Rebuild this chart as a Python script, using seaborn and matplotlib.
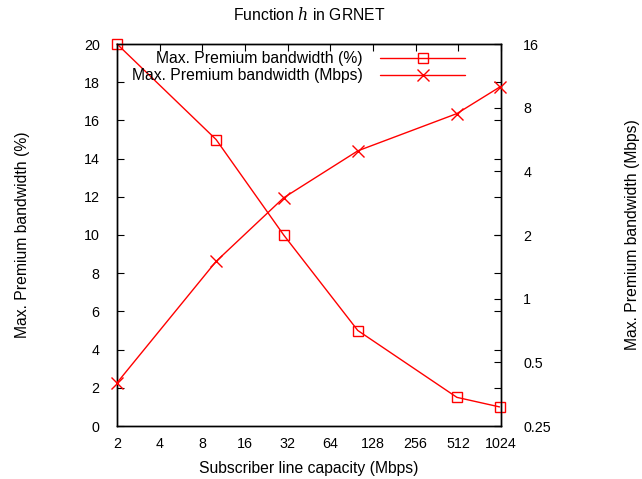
import matplotlib
matplotlib.use("Agg")
import matplotlib.pyplot as plt
import seaborn as sns
import pandas as pd

capacity = [2, 10, 30, 100, 500, 1000]
premium_pct = [20, 15, 10, 5, 1.5, 1]
premium_mbps = [0.4, 1.5, 3, 5, 7.5, 10]
xtick_vals = [2, 4, 8, 16, 32, 64, 128, 256, 512, 1024]
ytick_left = list(range(0, 21, 2))
ytick_right = [0.25, 0.5, 1, 2, 4, 8, 16]
ytick_right_labels = ["0.25", "0.5", "1", "2", "4", "8", "16"]

sns.set_style("white")
plt.rcParams['font.family'] = ['Liberation Sans', 'DejaVu Sans']
plt.rcParams['mathtext.fontset'] = 'dejavuserif'
for k in ("text.color", "axes.labelcolor", "xtick.color", "ytick.color"):
    plt.rcParams[k] = "black"

df = pd.DataFrame({"capacity": capacity, "pct": premium_pct, "mbps": premium_mbps})

W, H = 642, 479
L, R, T, B = 117, 501, 44, 426
fig = plt.figure(figsize=(W/100, H/100), dpi=100)
ax = fig.add_axes([L/W, 1-B/H, (R-L)/W, (B-T)/H])
ax2 = ax.twinx()

red = "#ff0000"
sns.lineplot(data=df, x="capacity", y="pct", ax=ax, color=red, lw=1,
             marker="s", markersize=7, markerfacecolor="none",
             markeredgecolor=red, markeredgewidth=1,
             label="Max. Premium bandwidth (%)", legend=False)
sns.lineplot(data=df, x="capacity", y="mbps", ax=ax2, color=red, lw=1,
             marker="x", markersize=9, markeredgecolor=red, markeredgewidth=1,
             label="Max. Premium bandwidth (Mbps)", legend=False)
for ln in ax.lines + ax2.lines:
    ln.set_clip_on(False)
    ln.set_zorder(5)

ax.set_xscale("log", base=2)
ax.set_xlim(2, 1024)
ax.set_xticks(xtick_vals)
ax.set_xticklabels([str(v) for v in xtick_vals])
ax.xaxis.set_minor_locator(matplotlib.ticker.NullLocator())
ax.set_ylim(0, 20)
ax.set_yticks(ytick_left)

ax2.set_yscale("log", base=2)
ax2.set_ylim(0.25, 16)
ax2.set_yticks(ytick_right)
ax2.set_yticklabels(ytick_right_labels)
ax2.yaxis.set_minor_locator(matplotlib.ticker.NullLocator())

tick_fs = 10.3
lab_fs = 11.3
ax.tick_params(axis="both", which="both", direction="in", length=5, width=0.8,
               top=True, right=True, labelright=False, labelsize=tick_fs,
               colors="black")
ax.tick_params(axis="x", pad=8)
ax.tick_params(axis="y", pad=12.5)
ax2.tick_params(axis="y", direction="in", length=5, width=0.8, labelsize=tick_fs,
                pad=16, colors="black")
for a in (ax, ax2):
    for s in a.spines.values():
        s.set_visible(True)
        s.set_color("black")
        s.set_linewidth(1.0)

ax.set_xlabel("Subscriber line capacity (Mbps)", fontsize=lab_fs)
ax.xaxis.set_label_coords(((L+R)/2-L)/(R-L), (B-469)/(B-T))
ax.xaxis.label.set_va("center")
ax.set_ylabel("Max. Premium bandwidth (%)", fontsize=lab_fs)
ax.yaxis.set_label_coords((22-L)/(R-L), 0.5)
ax.yaxis.label.set_va("center")
ax2.set_ylabel("Max. Premium bandwidth (Mbps)", fontsize=lab_fs)
ax2.yaxis.set_label_coords((633-L)/(R-L), 0.5)
ax2.yaxis.label.set_va("center")
fig.text(((L+R)/2)/W, 1-15/H, "Function $h$ in GRNET", fontsize=lab_fs,
         ha="center", va="center")

h1, l1 = ax.get_legend_handles_labels()
h2, l2 = ax2.get_legend_handles_labels()
leg = ax.legend(h1 + h2, l1 + l2, loc="upper right",
                bbox_to_anchor=(465/W, 1-51/H), bbox_transform=fig.transFigure,
                frameon=False, markerfirst=False, fontsize=lab_fs,
                handlelength=5.4, handletextpad=1.1, labelspacing=0.15,
                borderaxespad=0, borderpad=0)
try:
    leg._legend_box._children[-1]._children[0].align = "right"
except Exception:
    pass

fig.savefig("out.png", dpi=100)
